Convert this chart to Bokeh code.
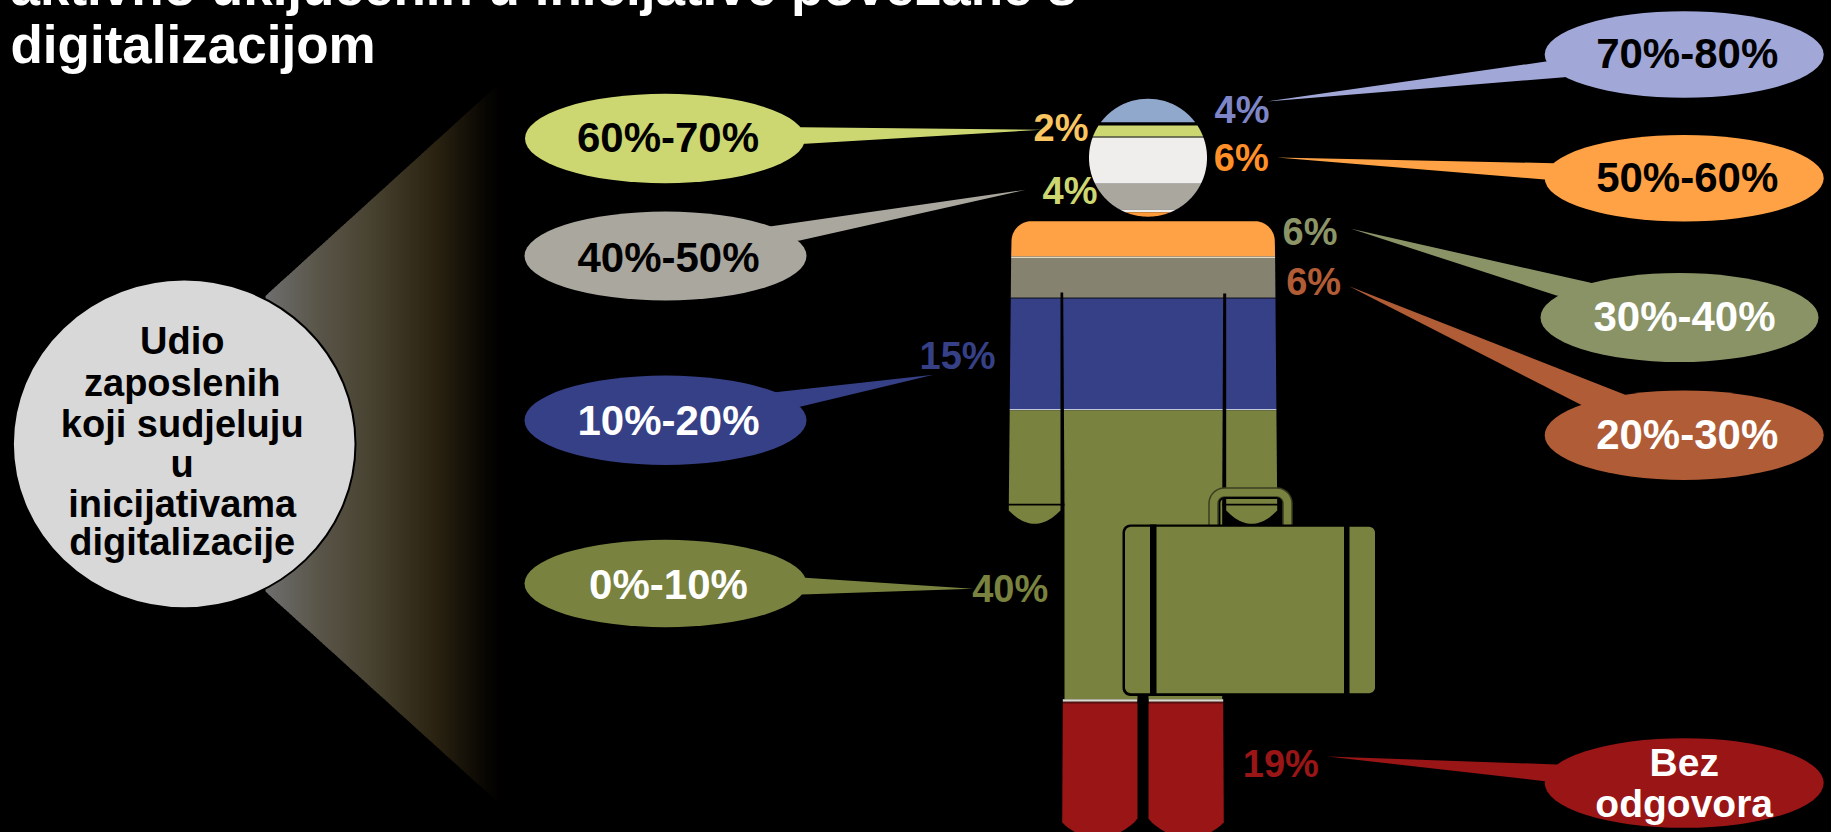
import numpy as np
from bokeh.plotting import figure
from bokeh.core.properties import value
from bokeh.embed import file_html
from bokeh.resources import INLINE

# ---- data ----
categories = ["70%-80%", "60%-70%", "50%-60%", "40%-50%", "30%-40%", "20%-30%", "10%-20%", "0%-10%", "Bez\nodgovora"]
shares = [4, 2, 6, 4, 6, 6, 15, 40, 19]
bubble_colors = ["#A1A8D8", "#CDD771", "#FFA245", "#AAA79E", "#8A9366", "#B05C36", "#364087", "#7A8240", "#9A1516"]
share_colors = ["#7E86C8", "#F8C560", "#FF8F26", "#CDD771", "#8C9568", "#B25C36", "#364087", "#7A8240", "#9A1516"]
bubble_text_colors = ["#000000", "#000000", "#000000", "#000000", "#FFFFFF", "#FFFFFF", "#FFFFFF", "#FFFFFF", "#FFFFFF"]
title_lines = ["aktivno uključenih u inicijative povezane s", "digitalizacijom"]
circle_lines = ["Udio", "zaposlenih", "koji sudjeluju", "u", "inicijativama", "digitalizacije"]

# ---- layout (pixel positions of the drawing) ----
bubble_cx = [1683.7, 664.5, 1683.7, 665, 1679, 1683.7, 665, 665, 1683.7]
bubble_cy = [54, 138, 177.7, 255.5, 317, 434.7, 419.7, 583, 782.5]
bubble_rx = [139.5, 140, 139.5, 141, 139, 139.5, 141, 141, 139.5]
bubble_ry = [43.3, 44.7, 43.3, 44.5, 44.5, 44.7, 44.7, 43.7, 44.8]
bubble_base = [(1545.4, 61, 1563.7, 76.7), (801.3, 126.7, 805, 143.3), (1553.2, 162.7, 1544.2, 179),
               (770.9, 225.7, 799.3, 240), (1590.2, 282.3, 1556, 295), (1624, 394, 1580.5, 404.3),
               (774.8, 391.7, 800.5, 406), (804.5, 577.3, 801.3, 594), (1556, 764, 1544.2, 780.7)]
bubble_tip = [(1266.8, 101), (1041.7, 129.3), (1276.5, 157), (1025, 189.3), (1350.6, 228.3),
              (1348.6, 285.7), (933, 374.3), (972.5, 588.3), (1327, 756)]
bubble_baseline = [68.3, 152.3, 192.3, 272, 331, 449, 435, 599, 775.7]
share_x = [1214, 1033, 1213.3, 1042, 1282, 1285.7, 919, 971.7, 1242.3]
share_y = [123.3, 141.5, 170.7, 204, 245, 295, 369, 602.3, 776.7]

BG = "#000000"
PAD = 2  # the figure runs a little past the window so that no page edge shows
p = figure(width=1831 + 2 * PAD, height=832 + 2 * PAD, output_backend="svg", toolbar_location=None,
           x_range=(-PAD, 1831 + PAD), y_range=(832 + PAD, -PAD), min_border=0,
           background_fill_color=BG, border_fill_color=BG, outline_line_color=None,
           margin=(-PAD, -PAD, -PAD, -PAD))
p.axis.visible = False
p.grid.visible = False

FONT = value("Liberation Sans")
BASE_SHIFT = 0.36  # the text glyph sets alphabetic text lower by this share of its size


def txt(xs, ys, labels, size, color, align="center"):
    p.text(xs, [y - BASE_SHIFT * size for y in ys], text=labels, text_font=FONT, text_font_style="bold",
           text_font_size=f"{size}px", text_color=color, text_align=align, text_baseline="alphabetic")


def poly(xs, ys, color, **kw):
    p.patch(list(xs), list(ys), fill_color=color, line_color=None, **kw)


# ---- funnel with a horizontal gradient, drawn as narrow strips ----
stop_x = [265, 317, 367, 433, 483, 502]
stop_c = [(0x6F, 0x6F, 0x6F), (0x5A, 0x56, 0x4A), (0x4A, 0x44, 0x33), (0x2C, 0x24, 0x12), (0x0A, 0x08, 0x04), (0, 0, 0)]
top = lambda x: 295.5 + (x - 265) * (82 - 295.5) / 235
bot = lambda x: 591 + (x - 265) * (804 - 591) / 235
for x0 in range(265, 502, 3):
    rgb = [int(np.interp(x0 + 1.5, stop_x, [c[i] for c in stop_c])) for i in range(3)]
    col = "#%02x%02x%02x" % tuple(rgb)
    x1 = min(x0 + 5, 502)
    poly([x0, x1, x1, x0], [top(x0), top(x1), bot(x1), bot(x0)], col)

p.ellipse([183.7], [443.4], width=[342.6], height=[328.8], fill_color="#D8D8D8", line_color="#000000", line_width=2)
circle_y = [354.6, 396, 436.8, 477, 517, 555]
txt([181.7] * 6, circle_y, circle_lines, 38, "#000000")

# ---- title ----
txt([10, 10], [5, 63], title_lines, 53, "#FFFFFF", "left")

# ---- head: circle cut into bands ----
HX, HY, HR = 1147.5, 157.2, 59
head_bands = [(98, 121.7, "#8FA8CC"), (125, 136, "#CDD771"), (136, 137.4, "#777766"), (137.4, 183.3, "#EFEEEC"),
              (183.3, 209, "#AAA79E"), (209, 211.7, "#EFEEEC"), (211.7, 216.3, "#FF9A3A")]
for y0, y1, col in head_bands:
    ys = np.linspace(max(y0, HY - HR), min(y1, HY + HR), 40)
    half = np.sqrt(np.maximum(HR ** 2 - (ys - HY) ** 2, 0))
    poly(np.r_[HX - half, (HX + half)[::-1]], np.r_[ys, ys[::-1]], col)


# ---- body ----
def left_edge(y):
    return 1011 + (y - 220.7) * (1008.3 - 1011) / (505 - 220.7)


def right_edge(y):
    return 1274.3 + (y - 220.7) * (1276.7 - 1274.3) / (505 - 220.7)


# rounded shoulders
t = np.linspace(0, np.pi / 2, 14)
R = 20
sh_x = np.r_[left_edge(256), 1011 + R - R * np.cos(t), 1274.3 - R + R * np.cos(t[::-1]), right_edge(256)]
sh_y = np.r_[256, 220.7 + R - R * np.sin(t), 220.7 + R - R * np.sin(t[::-1]), 256]
poly(sh_x, sh_y, "#FFA245")

body_bands = [(256, 257.4, "#E0DAC4"), (257.4, 297.2, "#858270"), (297.2, 298, "#101020"), (298, 408.5, "#364087"),
              (408.5, 409.8, "#C0C6DC"), (409.8, 503.3, "#7A8240")]
for y0, y1, col in body_bands:
    poly([left_edge(y0), right_edge(y0), right_edge(y1), left_edge(y1)], [y0, y0, y1, y1], col)

# torso
poly([1064, 1221.7, 1221.7, 1064], [420, 420, 698.7, 698.7], "#7A8240")
# slits between arms and torso
poly([1060, 1062.7, 1064, 1060], [292, 292, 505, 505], BG)
poly([1222.7, 1225.7, 1225.7, 1221.7], [293, 293, 505, 505], BG)
# hands
for xa, xb in ((1008.3, 1060), (1225.7, 1276.7)):
    s = np.linspace(-1, 1, 25)
    hx = (xa + xb) / 2 + s * (xb - xa) / 2
    hy = 523.3 - 13.3 * s ** 2
    poly(np.r_[xa, hx, xb], np.r_[505, hy, 505], "#7A8240")
# white strip and legs
for xa, xb in ((1062.3, 1137), (1148, 1222.7)):
    poly([xa, xb, xb, xa], [698.7, 698.7, 701.3, 701.3], "#D8D8CC")
    poly([xa, xb, xb, xa], [701.3, 701.3, 702.7, 702.7], "#5A1010")
s = np.linspace(0, 1, 25)
lx = 1061.7 + s * (1137 - 1061.7)
ly = 821.7 + 18 * np.sin(s * np.pi) ** 0.8 - 3.7 * s
poly(np.r_[1062.3, lx, 1137], np.r_[702.7, ly, 702.7], "#9A1516")
rx = 1223.3 - s * (1223.3 - 1148)
poly(np.r_[1222.7, rx, 1148], np.r_[702.7, ly, 702.7], "#9A1516")
# gap between the legs at the top
poly([1137, 1148, 1148, 1137], [694, 694, 703, 703], BG)

# ---- suitcase handle ----
a = np.linspace(0, np.pi / 2, 10)
hr = 11
path_x = np.r_[1213, 1213 + hr - hr * np.cos(a), 1287 - hr + hr * np.cos(a[::-1]), 1287]
path_y = np.r_[526, 492 + hr - hr * np.sin(a), 492 + hr - hr * np.sin(a[::-1]), 526]
p.line(path_x, path_y, line_color="#3A3F20", line_width=10.5, line_join="round")
p.line(path_x, path_y, line_color="#7A8240", line_width=7.5, line_join="round")
ipx = np.r_[1219, 1219 + 5 - 5 * np.cos(a), 1281 - 5 + 5 * np.cos(a[::-1])]
ipy = np.r_[526, 497.5 + 5 - 5 * np.sin(a), 497.5 + 5 - 5 * np.sin(a[::-1])]
p.line(ipx, ipy, line_color=BG, line_width=1.8)


# ---- suitcase ----
def rrect(x0, y0, x1, y1, r):
    q = np.linspace(0, np.pi / 2, 8)
    xs = np.r_[x0 + r - r * np.cos(q), x1 - r + r * np.sin(q), x1 - r + r * np.cos(q), x0 + r - r * np.sin(q)]
    ys = np.r_[y0 + r - r * np.sin(q), y0 + r - r * np.cos(q), y1 - r + r * np.sin(q), y1 - r + r * np.cos(q)]
    return xs, ys


poly(*rrect(1122, 524, 1376, 695.5, 8), BG)
poly(*rrect(1124.5, 526.3, 1374.5, 692.7, 6), "#7A8240")
poly([1149.5, 1156, 1156, 1149.5], [524, 524, 695.5, 695.5], BG)
poly([1343.5, 1349, 1349, 1343.5], [524, 524, 695.5, 695.5], BG)

# ---- callout bubbles ----
for i in range(len(categories)):
    bx0, by0, bx1, by1 = bubble_base[i]
    tx, ty = bubble_tip[i]
    poly([bx0, tx, bx1, bubble_cx[i]], [by0, ty, by1, bubble_cy[i]], bubble_colors[i])
p.ellipse(bubble_cx, bubble_cy, width=[2 * v for v in bubble_rx], height=[2 * v for v in bubble_ry],
          fill_color=bubble_colors, line_color=None)

for i, cat in enumerate(categories):
    if "\n" in cat:
        txt([bubble_cx[i]] * 2, [775.7, 816.7], cat.split("\n"), 39, bubble_text_colors[i])
    else:
        offset = 3 if i != 4 else 5
        txt([bubble_cx[i] + offset], [bubble_baseline[i]], [cat], 42, bubble_text_colors[i])

# ---- share labels ----
for i, v in enumerate(shares):
    txt([share_x[i]], [share_y[i]], [f"{v}%"], 38, share_colors[i], "left")

html = file_html(p, INLINE)
open("out.html", "w").write(html)
